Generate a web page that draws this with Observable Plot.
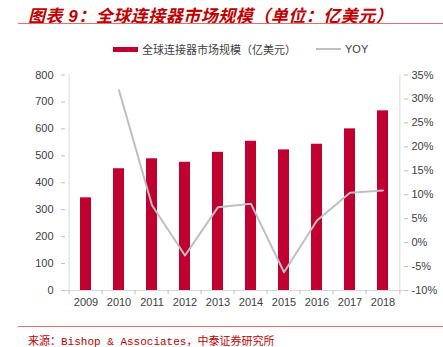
<!DOCTYPE html>
<html>
<head>
<meta charset="utf-8">
<script src="https://cdn.jsdelivr.net/npm/d3@7"></script>
<script src="https://cdn.jsdelivr.net/npm/@observablehq/plot@0.6"></script>
<style>
  html, body { margin: 0; padding: 0; background: #fff; }
  #wrap { position: relative; width: 443px; height: 347px; overflow: hidden; font-family: "Liberation Sans", Arial, "Noto Sans CJK SC", sans-serif; }
  .title { position: absolute; left: 28px; top: 2px; font-size: 17px; font-weight: bold; font-style: italic; color: #c00000; font-family: "Liberation Sans", "Noto Sans CJK SC", sans-serif; white-space: nowrap; letter-spacing: 0.5px; }
  .rule { position: absolute; left: 18px; right: 0; height: 1px; background: #e07070; }
  .legend { position: absolute; top: 41px; left: 113px; font-size: 11px; color: #404040; white-space: nowrap; display: flex; align-items: center; }
  .sw-bar { display: inline-block; width: 25px; height: 5px; background: #c00030; margin-right: 4px; }
  .sw-line { display: inline-block; width: 25px; height: 2px; background: #bfbfbf; margin-left: 20px; margin-right: 4px; }
  .source { position: absolute; left: 28px; top: 332px; font-size: 11px; color: #c00000; font-family: "Liberation Mono", "DejaVu Sans Mono", "Noto Sans CJK SC", monospace; white-space: nowrap; }
  #chart { position: absolute; left: 0; top: 60px; }
</style>
</head>
<body>
<div id="wrap">
  <div class="title">图表 9：全球连接器市场规模（单位：亿美元）</div>
  <div class="rule" style="top:23px"></div>
  <div class="legend"><span class="sw-bar"></span>全球连接器市场规模（亿美元）<span class="sw-line"></span>YOY</div>
  <div id="chart"></div>
  <div class="rule" style="top:326px"></div>
  <div class="source">来源：Bishop &amp; Associates，中泰证券研究所</div>
</div>
<script>
const years = ["2009","2010","2011","2012","2013","2014","2015","2016","2017","2018"];
const marketSize = [344, 452, 489, 476, 513, 554, 522, 543, 600, 667];
const yoyYears = ["2010","2011","2012","2013","2014","2015","2016","2017","2018"];
const yoy = [31.8, 7.8, -2.7, 7.4, 8.1, -6.2, 4.6, 10.4, 10.9];
const leftTicks = [0,100,200,300,400,500,600,700,800];
const rightTicks = [-10,-5,0,5,10,15,20,25,30,35];

// map right-axis percent to left-axis units
const rMin = -10, rMax = 35, lMax = 800;
const toLeft = p => (p - rMin) / (rMax - rMin) * lMax;
const fromLeft = v => v / lMax * (rMax - rMin) + rMin;

const bars = years.map((y, i) => ({year: y, value: marketSize[i]}));
const line = yoyYears.map((y, i) => ({year: y, v: toLeft(yoy[i])}));

const W = 443, H = 255, mL = 65, mR = 40, mT = 14.5, mB = 25;
const bw = (W - mL - mR) / years.length;

const plot = Plot.plot({
  width: W, height: H,
  marginLeft: mL, marginRight: mR, marginTop: mT, marginBottom: mB,
  style: {fontFamily: "Liberation Sans, Arial, sans-serif", fontSize: "11px", color: "#404040", background: "white"},
  x: {domain: years, padding: 0.67, paddingOuter: 0.335, align: 0.5},
  y: {domain: [0, 800], axis: null},
  marks: [
    Plot.barY(bars, {x: "year", y: "value", fill: "#c00030"}),
    Plot.line(line, {x: "year", y: "v", stroke: "#bfbfbf", strokeWidth: 2}),
    // left axis
    Plot.axisY({anchor: "left", ticks: leftTicks, tickSize: 4, tickPadding: 8, stroke: "#bfbfbf", fill: "#404040", label: null}),
    Plot.ruleX([0], {x: () => years[0], dx: -bw/2, y1: 0, y2: 800, stroke: "#d9d9d9"}),
    // right axis
    Plot.axisY({anchor: "right", ticks: rightTicks.map(toLeft), tickFormat: v => Math.round(fromLeft(v)) + "%", tickSize: 4, tickPadding: 4, stroke: "#bfbfbf", fill: "#404040", label: null}),
    Plot.ruleX([0], {x: () => years[years.length-1], dx: bw/2, y1: 0, y2: 800, stroke: "#d9d9d9"}),
    // bottom axis
    Plot.ruleY([0], {stroke: "#d9d9d9"}),
    Plot.axisX({tickSize: 0, tickPadding: 8, fill: "#404040", label: null}),
    Plot.ruleX(years, {x: d => d, dx: -bw/2, y1: 0, y2: -15, stroke: "#bfbfbf"}),
    Plot.ruleX([years[years.length-1]], {x: d => d, dx: bw/2, y1: 0, y2: -15, stroke: "#bfbfbf"})
  ]
});
document.getElementById("chart").appendChild(plot);
</script>
</body>
</html>
